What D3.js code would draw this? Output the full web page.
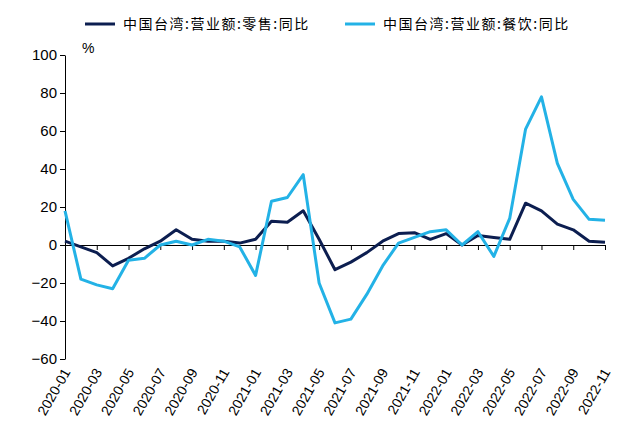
<!DOCTYPE html>
<html><head><meta charset="utf-8">
<script src="https://cdn.jsdelivr.net/npm/d3@7"></script>
<style>body{margin:0;background:#fff}</style>
</head><body><div id="chart"></div>
<script>
const width = 640, height = 433;

// 月份
const months = [];
for (let y = 2020; y <= 2022; y++) for (let m = 1; m <= 12; m++) {
    if (y === 2022 && m > 11) break;
    months.push(`${y}-${String(m).padStart(2, "0")}`);
}
const retail = [2,-1,-4,-11,-7,-2,2,8,3,2,2,1,3,12.5,12,18,3,-13,-9,-4,2,6,6.5,3,6,0,5,4,3,22,18,11,8,2,1.5];
const food = [18,-18,-21,-23,-8,-7,0,2,0,3,2,-1,-16,23,25,37,-20,-41,-39,-26,-11,1,4,7,8,0,7,-6,14,61,78,43,24,13.5,13];
const yTicks = [-60,-40,-20,0,20,40,60,80,100];
const seriesNames = ["中国台湾:营业额:零售:同比", "中国台湾:营业额:餐饮:同比"];
const colors = ["#0c1e50", "#23b2e6"];

const svg = d3.select("#chart").append("svg").attr("width", width).attr("height", height);
const font = "'Liberation Sans', Arial, sans-serif";

const x = d3.scalePoint().domain(months).range([65, 605]);
const y = d3.scaleLinear().domain([-60, 100]).range([359, 55]);

// y 轴
const yAxis = svg.append("g").attr("transform", "translate(65,0)")
    .call(d3.axisLeft(y).tickValues(yTicks).tickSize(5).tickSizeOuter(0));
yAxis.selectAll("text").style("font-family", font).style("font-size", "15px").attr("fill", "#000");
yAxis.selectAll("line,path").attr("stroke", "#000");

// x 轴 (在 0 处)
const xAxis = svg.append("g").attr("transform", `translate(0,${y(0)})`)
    .call(d3.axisBottom(x).tickValues(months.filter((d, i) => i % 2 === 0)).tickSize(5).tickFormat(""));
xAxis.selectAll("line,path").attr("stroke", "#000");

// x 标签
svg.append("g").selectAll("text").data(months.filter((d, i) => i % 2 === 0)).enter()
    .append("text")
    .attr("transform", d => `translate(${x(d) + 6},${372}) rotate(-60)`)
    .attr("text-anchor", "end")
    .style("font-family", font).style("font-size", "14px")
    .text(d => d);

svg.append("text").attr("x", 82).attr("y", 53).style("font-family", font).style("font-size", "14px").text("%");

// 折线
const line = d3.line().x((d, i) => x(months[i])).y(d => y(d));
[retail, food].forEach((s, i) => {
    svg.append("path").datum(s).attr("d", line).attr("fill", "none")
        .attr("stroke", colors[i]).attr("stroke-width", 3).attr("stroke-linejoin", "round");
});

// 图例
const legendX = [85, 345];
seriesNames.forEach((n, i) => {
    svg.append("line").attr("x1", legendX[i]).attr("x2", legendX[i] + 30).attr("y1", 24).attr("y2", 24)
        .attr("stroke", colors[i]).attr("stroke-width", 3);
    svg.append("text").attr("x", legendX[i] + 38).attr("y", 29)
        .style("font-family", "'Noto Sans CJK SC', sans-serif").style("font-size", "14px")
        .style("letter-spacing", "1.5px").text(n);
});
</script></body></html>
